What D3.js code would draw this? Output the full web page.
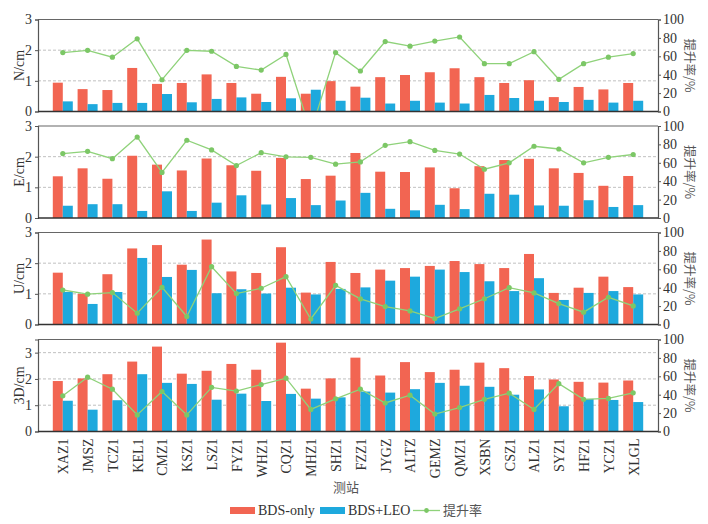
<!DOCTYPE html>
<html><head><meta charset="utf-8">
<script src="https://cdn.jsdelivr.net/npm/d3@7"></script>
<style>
body{margin:0;background:#fff}svg{display:block}
.sf{font-family:"Liberation Serif","Times New Roman","DejaVu Serif",serif}
.cj{font-family:"Noto Sans CJK SC","Noto Sans",sans-serif}
</style>
</head><body>
<svg id="c" width="708" height="524"></svg>
<script>
const stations = ["XAZ1","JMSZ","TCZ1","KEL1","CMZ1","KSZ1","LSZ1","FYZ1","WHZ1","CQZ1","MHZ1","SHZ1","FZZ1","JYGZ","ALTZ","GEMZ","QMZ1","XSBN","CSZ1","ALZ1","SYZ1","HFZ1","YCZ1","XLGL"];
const panelLabels = ["N/cm","E/cm","U/cm","3D/cm"];
const leftMax = [3,3,3,3.5];
const leftTicks = [[0,1,2,3],[0,1,2,3],[0,1,2,3],[0,1,2,3]];
const rateTicks = [0,20,40,60,80,100];
const legendNames = ["BDS-only","BDS+LEO","提升率"];

const N_bds = [0.94,0.73,0.70,1.42,0.90,0.93,1.21,0.93,0.58,1.13,0.58,0.99,0.81,1.12,1.19,1.28,1.41,1.12,0.93,1.02,0.47,0.80,0.72,0.93];
const N_leo = [0.33,0.24,0.28,0.28,0.57,0.30,0.41,0.46,0.31,0.43,0.71,0.35,0.45,0.26,0.35,0.29,0.26,0.54,0.44,0.35,0.31,0.38,0.29,0.35];
const N_rate = [64,66.5,59,79,34.5,66.5,65.5,49,45,62,-22,64,44,76,71,76.5,81,52,52,65,35,52,59,63];

const E_bds = [1.36,1.62,1.28,2.03,1.74,1.55,1.94,1.72,1.54,1.96,1.27,1.38,2.12,1.51,1.50,1.65,0.97,1.69,1.89,1.93,1.62,1.47,1.05,1.37];
const E_leo = [0.40,0.45,0.45,0.23,0.87,0.23,0.50,0.74,0.44,0.65,0.42,0.57,0.82,0.30,0.25,0.43,0.29,0.79,0.76,0.41,0.40,0.58,0.36,0.42];
const E_rate = [70,72.5,64.5,88,49.5,84.5,74,57,71,66.5,66,58.5,61,79,83,73.5,69.5,53,60,78,75,60,66,69];

const U_bds = [1.69,1.00,1.64,2.48,2.59,1.95,2.77,1.73,1.68,2.52,1.04,2.04,1.68,1.79,1.84,1.91,2.07,1.97,1.84,2.30,1.03,1.20,1.56,1.22];
const U_leo = [1.06,0.67,1.06,2.17,1.55,1.78,1.02,1.15,1.01,1.20,0.98,1.16,1.21,1.43,1.56,1.79,1.71,1.41,1.09,1.51,0.80,1.03,1.09,0.98];
const U_rate = [37.5,33,34.7,12.3,40.4,8.7,62.8,33.6,39.4,52,6,42.6,27.8,19.5,14.8,6.5,17,28,40,34.3,22.7,13.4,29.6,20.2];

const D_bds = [1.92,2.02,2.18,2.66,3.23,2.20,2.31,2.57,2.35,3.38,1.63,2.02,2.81,2.13,2.64,2.26,2.35,2.62,2.41,2.11,1.98,1.89,1.86,1.94];
const D_leo = [1.17,0.83,1.19,2.18,1.85,1.81,1.21,1.44,1.16,1.43,1.25,1.30,1.52,1.48,1.61,1.85,1.74,1.70,1.40,1.60,0.96,1.24,1.20,1.12];
const D_rate = [38.8,59,46,18,43.5,18,48,44,51,58,24,35.5,46,31,39.5,19,26,35,41.7,24,52,35,36,42];

const panels = [
  {bds:N_bds, leo:N_leo, rate:N_rate},
  {bds:E_bds, leo:E_leo, rate:E_rate},
  {bds:U_bds, leo:U_leo, rate:U_rate},
  {bds:D_bds, leo:D_leo, rate:D_rate}
];

const RED="#f26552", BLUE="#1ea9dd", GREEN="#8fd27a", GDOT="#7cc766";

const svg = d3.select("#c");
const L=38, R=658, H=92;
const tops=[19.5,126,232.5,339.5];
const x = d3.scalePoint().domain(stations).range([L,R]).padding(1);
const bw = 10;

panels.forEach((p,i)=>{
  const t=tops[i], b=t+H;
  const y = d3.scaleLinear().domain([0,leftMax[i]]).range([b,t]);
  const yr = d3.scaleLinear().domain([0,100]).range([b,t]);
  const g = svg.append("g");
  g.append("clipPath").attr("id","clip"+i).append("rect").attr("x",L).attr("y",t).attr("width",R-L).attr("height",H);
  g.selectAll(".grid").data(leftTicks[i].filter(v=>v>0 && v<leftMax[i])).enter().append("line")
    .attr("x1",L).attr("x2",R).attr("y1",d=>y(d)).attr("y2",d=>y(d))
    .attr("stroke","#b0b0b0").attr("stroke-width",0.8).attr("stroke-dasharray","3,2");
  g.selectAll(".rb").data(p.bds).enter().append("rect")
    .attr("x",(d,j)=>x(stations[j])-bw).attr("width",bw)
    .attr("y",d=>y(d)).attr("height",d=>b-y(d)).attr("fill",RED);
  g.selectAll(".bb").data(p.leo).enter().append("rect")
    .attr("x",(d,j)=>x(stations[j])).attr("width",bw)
    .attr("y",d=>y(d)).attr("height",d=>b-y(d)).attr("fill",BLUE);
  const lg = g.append("g").attr("clip-path","url(#clip"+i+")");
  lg.append("path").datum(p.rate)
    .attr("d",d3.line().x((d,j)=>x(stations[j])).y(d=>yr(d)))
    .attr("fill","none").attr("stroke",GREEN).attr("stroke-width",1.3);
  lg.selectAll("circle").data(p.rate).enter().append("circle")
    .attr("cx",(d,j)=>x(stations[j])).attr("cy",d=>yr(d)).attr("r",2.6).attr("fill",GDOT);
  g.append("line").attr("x1",L).attr("x2",R).attr("y1",t).attr("y2",t).attr("stroke","#666").attr("stroke-width",1.2);
  const la = g.append("g").attr("transform",`translate(${L},0)`)
    .call(d3.axisLeft(y).tickValues(leftTicks[i]).tickSize(3).tickPadding(3).tickFormat(d3.format("d")));
  la.attr("font-family",null).attr("font-size",null);
  la.select(".domain").attr("stroke","#555").attr("stroke-width",1.2);
  la.selectAll(".tick line").attr("stroke","#555");
  la.selectAll("text").attr("class","sf").style("font-size","14px").attr("fill","#333");
  const ra = g.append("g").attr("transform",`translate(${R},0)`)
    .call(d3.axisRight(yr).tickValues(rateTicks).tickSize(3).tickPadding(2));
  ra.attr("font-family",null).attr("font-size",null);
  ra.select(".domain").attr("stroke","#555").attr("stroke-width",1.2);
  ra.selectAll(".tick line").attr("stroke","#555");
  ra.selectAll("text").attr("class","sf").style("font-size","14px").attr("fill","#333");
  g.append("line").attr("x1",L).attr("x2",R).attr("y1",b).attr("y2",b).attr("stroke","#333").attr("stroke-width",1.3);
  g.append("text").attr("class","sf").attr("transform",`translate(19,${t+H/2}) rotate(-90)`)
    .attr("text-anchor","middle").attr("dy","0.35em").style("font-size","14px").attr("fill","#333").text(panelLabels[i]);
  g.append("text").attr("class","cj").attr("transform",`translate(689,${t+H/2}) rotate(90)`)
    .attr("text-anchor","middle").attr("dy","0.35em").style("font-size","12.5px").attr("fill","#555").text("提升率/%");
  if(i===3){
    const xa = g.append("g").attr("transform",`translate(0,${b})`)
      .call(d3.axisBottom(x).tickSize(0).tickPadding(0));
    xa.attr("font-family",null).attr("font-size",null);
    xa.select(".domain").remove();
    xa.selectAll("text").attr("class","sf").style("font-size","14px").attr("fill","#333")
      .attr("text-anchor","end").attr("dy","0.35em")
      .attr("transform","translate(0,7) rotate(-90)").attr("x",0).attr("y",0);
  }
});

svg.append("text").attr("class","cj").attr("x",346).attr("y",492).attr("text-anchor","middle")
  .style("font-size","13px").attr("fill","#555").text("测站");

const lgd = svg.append("g");
lgd.append("rect").attr("x",230).attr("y",507).attr("width",25).attr("height",7).attr("fill",RED);
lgd.append("text").attr("class","sf").attr("x",258).attr("y",514.5).style("font-size","14px").attr("fill","#333").text(legendNames[0]);
lgd.append("rect").attr("x",320).attr("y",507).attr("width",25).attr("height",7).attr("fill",BLUE);
lgd.append("text").attr("class","sf").attr("x",348).attr("y",514.5).style("font-size","14px").attr("fill","#333").text(legendNames[1]);
lgd.append("line").attr("x1",413).attr("x2",440).attr("y1",510.5).attr("y2",510.5).attr("stroke",GREEN).attr("stroke-width",1.3);
lgd.append("circle").attr("cx",426.5).attr("cy",510.5).attr("r",2.4).attr("fill",GDOT);
lgd.append("text").attr("class","cj").attr("x",443).attr("y",515).style("font-size","13px").attr("fill","#555").text(legendNames[2]);
</script>
</body></html>
